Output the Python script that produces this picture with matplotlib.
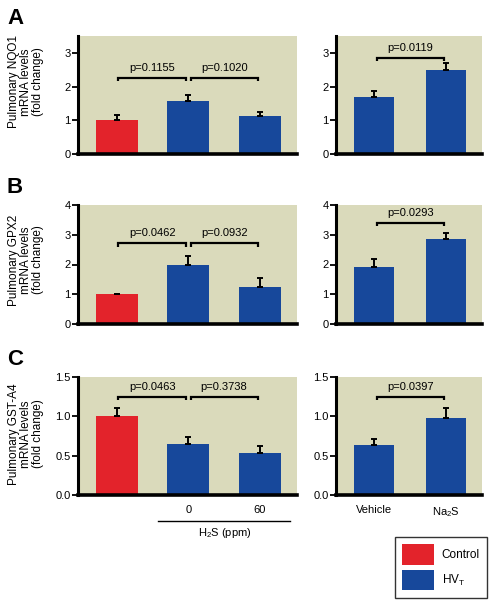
import matplotlib
matplotlib.use('Agg')
import matplotlib.pyplot as plt
from matplotlib.patches import Patch

plt.rcParams['font.family'] = ['Liberation Sans', 'DejaVu Sans']
plt.rcParams['mathtext.fontset'] = 'custom'
plt.rcParams['mathtext.rm'] = 'Liberation Sans'
plt.rcParams['mathtext.it'] = 'Liberation Sans'

# datos
nqo1_h2s = [1.0, 1.58, 1.12]
nqo1_h2s_err = [0.15, 0.18, 0.12]
nqo1_na2s = [1.70, 2.50]
nqo1_na2s_err = [0.18, 0.20]

gpx2_h2s = [1.0, 2.0, 1.25]
gpx2_h2s_err = [0.02, 0.27, 0.30]
gpx2_na2s = [1.90, 2.85]
gpx2_na2s_err = [0.30, 0.22]

gst_h2s = [1.0, 0.65, 0.54]
gst_h2s_err = [0.10, 0.09, 0.08]
gst_na2s = [0.64, 0.98]
gst_na2s_err = [0.07, 0.13]

p_h2s = [['p=0.1155', 'p=0.1020'], ['p=0.0462', 'p=0.0932'], ['p=0.0463', 'p=0.3738']]
p_na2s = ['p=0.0119', 'p=0.0293', 'p=0.0397']
bracket_h2s = [2.26, 2.72, 1.25]
bracket_na2s = [2.85, 3.40, 1.25]

ylabels = ['Pulmonary NQO1\nmRNA levels\n(fold change)',
           'Pulmonary GPX2\nmRNA levels\n(fold change)',
           'Pulmonary GST-A4\nmRNA levels\n(fold change)']
letras = ['A', 'B', 'C']
ymax = [3.5, 4, 1.5]
yticks = [[0, 1, 2, 3], [0, 1, 2, 3, 4], [0.0, 0.5, 1.0, 1.5]]

vermelho = '#e3232b'
azul = '#17489b'
fundo = '#dadabb'

W, H = 491, 601
fig = plt.figure(figsize=(W / 100, H / 100), dpi=100)

def eixo(x0, x1, y0, y1):
    return fig.add_axes([x0 / W, 1 - y1 / H, (x1 - x0) / W, (y1 - y0) / H])

linhas = [(36, 154), (205, 324), (377, 495)]
centro_label = [82, 260, 434]
dados_h2s = [(nqo1_h2s, nqo1_h2s_err), (gpx2_h2s, gpx2_h2s_err), (gst_h2s, gst_h2s_err)]
dados_na2s = [(nqo1_na2s, nqo1_na2s_err), (gpx2_na2s, gpx2_na2s_err), (gst_na2s, gst_na2s_err)]

def estilo(ax, r):
    ax.set_facecolor(fundo)
    ax.spines['top'].set_visible(False)
    ax.spines['right'].set_visible(False)
    ax.spines['left'].set_linewidth(2.2)
    ax.spines['bottom'].set_linewidth(2.6)
    ax.set_ylim(0, ymax[r])
    ax.set_yticks(yticks[r])
    if r == 2:
        ax.set_yticklabels(['%.1f' % v for v in yticks[r]])
    ax.tick_params(axis='y', length=4.5, width=1.3, labelsize=8, pad=0.8)
    ax.tick_params(axis='x', length=0, labelsize=8, pad=7.5)
    ax.set_xticks([])

def colchete(ax, x0, x1, y, txt, dy):
    ax.plot([x0, x0, x1, x1], [y - dy, y, y, y - dy], color='black', lw=1.6,
            solid_capstyle='butt', solid_joinstyle='miter')
    ax.annotate(txt, ((x0 + x1) / 2, y), xytext=(0, 3.5), textcoords='offset points',
                ha='center', va='bottom', fontsize=8)

for r in range(3):
    y0, y1 = linhas[r]
    dy = ymax[r] * 0.03

    # painel esquerdo (H2S)
    ax = eixo(78, 297, y0, y1)
    vals, errs = dados_h2s[r]
    xs = range(len(vals))
    ax.bar(xs, vals, width=0.59, color=[vermelho, azul, azul], zorder=2)
    ax.errorbar(xs, vals, yerr=[[0] * len(errs), errs], fmt='none', ecolor='black',
                elinewidth=1.4, capsize=2.5, capthick=1.4, zorder=3)
    ax.set_xlim(-0.545, 2.52)
    estilo(ax, r)
    colchete(ax, 0.02, 0.965, bracket_h2s[r], p_h2s[r][0], dy)
    colchete(ax, 1.03, 1.97, bracket_h2s[r], p_h2s[r][1], dy)
    fig.text(26 / W, 1 - centro_label[r] / H, ylabels[r], rotation=90, fontsize=8.5,
             linespacing=1.05, ha='center', va='center', multialignment='center')
    fig.text(7 / W, 1 - (y0 - 28) / H, letras[r], fontsize=16, fontweight='bold',
             va='top', ha='left')
    if r == 2:
        ax.set_xticks([1, 2])
        ax.set_xticklabels(['0', '60'])
        ax.plot([0.365, 0.968], [-0.22, -0.22], transform=ax.transAxes, color='black',
                lw=1.0, clip_on=False)
        ax.text(0.67, -0.32, 'H$_2$S (ppm)', transform=ax.transAxes, ha='center',
                va='center', fontsize=8)

    # painel direito (Na2S)
    ax = eixo(336, 482, y0, y1)
    vals, errs = dados_na2s[r]
    xs = range(len(vals))
    ax.bar(xs, vals, width=0.56, color=azul, zorder=2)
    ax.errorbar(xs, vals, yerr=[[0] * len(errs), errs], fmt='none', ecolor='black',
                elinewidth=1.4, capsize=2.5, capthick=1.4, zorder=3)
    ax.set_xlim(-0.53, 1.5)
    estilo(ax, r)
    colchete(ax, 0.04, 0.97, bracket_na2s[r], p_na2s[r], dy)
    if r == 2:
        ax.set_xticks([0, 1])
        ax.set_xticklabels(['Vehicle', 'Na$_2$S'])

handles = [Patch(facecolor=vermelho, edgecolor='none', label='Control'),
           Patch(facecolor=azul, edgecolor='none', label='HV$_\\mathrm{T}$')]
leg = fig.legend(handles=handles, loc='upper right', bbox_to_anchor=(487 / W, 1 - 537 / H),
                 fontsize=8.5, handlelength=2.7, handleheight=2.3, handletextpad=0.65,
                 borderpad=0.6, labelspacing=0.45, fancybox=False, frameon=True,
                 borderaxespad=0)
leg.get_frame().set_edgecolor('black')
leg.get_frame().set_linewidth(1.0)

fig.savefig('out.png', dpi=100)
